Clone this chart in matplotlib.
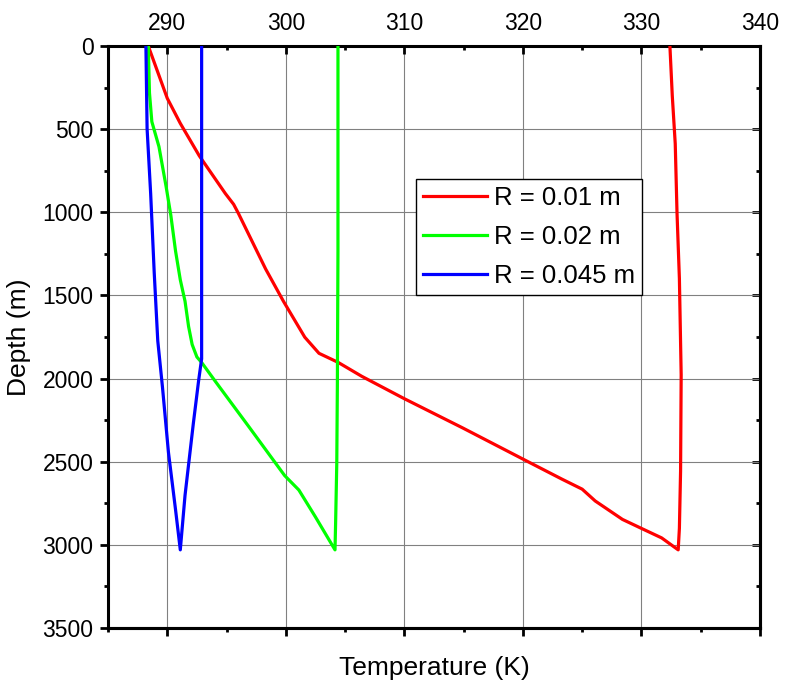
import matplotlib
matplotlib.use("Agg")
import matplotlib.pyplot as plt
from matplotlib.ticker import MultipleLocator

plt.rcParams['font.family'] = ['Liberation Sans', 'DejaVu Sans']

# temperature (K) vs depth (m); each loop = injection (down) then production (up)
red_down_T = [288.4, 290.0, 291.1, 292.7, 294.9, 295.6, 296.0, 298.3, 299.8, 301.6, 302.8,
              304.4, 306.4, 310.0, 314.9, 320.0, 323.3, 325.0, 326.1, 328.4, 330.0, 331.7, 333.1]
red_down_D = [0, 314, 465, 660, 887, 952, 1006, 1341, 1535, 1751, 1848,
              1902, 1986, 2121, 2296, 2484, 2605, 2665, 2736, 2847, 2901, 2958, 3030]
red_up_T = [333.2, 333.3, 333.35, 333.2, 333.0, 332.85, 332.6, 332.4]
red_up_D = [2900, 2556, 1977, 1398, 1005, 588, 299, 0]

green_down_T = [288.4, 288.5, 288.7, 289.3, 289.9, 290.3, 290.7, 291.1, 291.5, 291.8, 292.1,
                292.5, 292.9, 294.1, 296.9, 299.9, 301.1, 302.5, 304.15]
green_down_D = [0, 282, 455, 605, 844, 1017, 1233, 1406, 1535, 1687, 1795,
                1870, 1903, 2021, 2291, 2583, 2670, 2832, 3030]
green_up_T = [304.2, 304.3, 304.35, 304.4, 304.4]
green_up_D = [2875, 2508, 2032, 1233, 0]

blue_down_T = [288.2, 288.3, 288.6, 288.9, 289.2, 289.6, 290.1, 290.7, 291.1]
blue_down_D = [0, 498, 887, 1362, 1773, 2054, 2443, 2789, 3030]
blue_up_T = [291.5, 292.2, 292.65, 292.9, 292.9]
blue_up_D = [2702, 2270, 2010, 1881, 0]

labels = ['R = 0.01 m', 'R = 0.02 m', 'R = 0.045 m']
colors = ['#ff0000', '#00ff00', '#0000ff']

fig = plt.figure(figsize=(7.87, 6.85), dpi=100)
ax = fig.add_axes([0.1372, 0.0832, 0.8285, 0.8496])

series = [(red_down_T + red_up_T, red_down_D + red_up_D),
          (green_down_T + green_up_T, green_down_D + green_up_D),
          (blue_down_T + blue_up_T, blue_down_D + blue_up_D)]
for (t, d), lab, c in zip(series, labels, colors):
    ax.plot(t, d, color=c, lw=2.3, label=lab, zorder=3)

ax.set_xlim(285, 340)
ax.set_ylim(3500, 0)
ax.xaxis.set_major_locator(MultipleLocator(10))
ax.xaxis.set_minor_locator(MultipleLocator(5))
ax.yaxis.set_major_locator(MultipleLocator(500))
ax.yaxis.set_minor_locator(MultipleLocator(250))
ax.grid(True, which='major', color='#808080', lw=0.8)

ax.xaxis.tick_top()
ax.tick_params(axis='x', which='both', direction='in', top=True, bottom=False,
               labeltop=True, labelbottom=False, width=2, labelsize=16.5, pad=8)
ax.tick_params(axis='x', which='major', length=5.5)
ax.tick_params(axis='x', which='minor', length=3)
ax.tick_params(axis='y', which='both', direction='out', left=True, right=False,
               width=2, labelsize=16.5, pad=5)
ax.tick_params(axis='y', which='major', length=5.5)
ax.tick_params(axis='y', which='minor', length=3)

secx = ax.secondary_xaxis('bottom')
secx.xaxis.set_major_locator(MultipleLocator(10))
secx.xaxis.set_minor_locator(MultipleLocator(5))
secx.tick_params(which='both', direction='out', width=2, labelbottom=False)
secx.tick_params(which='major', length=5.5)
secx.tick_params(which='minor', length=3)
secy = ax.secondary_yaxis('right')
secy.yaxis.set_major_locator(MultipleLocator(500))
secy.yaxis.set_minor_locator(MultipleLocator(250))
secy.tick_params(which='both', direction='in', width=2, labelright=False)
secy.tick_params(which='major', length=5.5)
secy.tick_params(which='minor', length=3)

for a in (ax, secx, secy):
    for s in a.spines.values():
        s.set_linewidth(2.2)

ax.xaxis.set_label_position('bottom')
ax.set_xlabel('Temperature (K)', fontsize=19, labelpad=20)
ax.set_ylabel('Depth (m)', fontsize=19, labelpad=8)

leg = ax.legend(loc='upper left', bbox_to_anchor=(0.472, 0.771), borderaxespad=0,
                fontsize=18.5, fancybox=False, edgecolor='black', framealpha=1,
                handlelength=2.5, handletextpad=0.28, labelspacing=0.58,
                borderpad=0.27)
leg.get_frame().set_linewidth(1)

fig.savefig('out.png', dpi=100)
